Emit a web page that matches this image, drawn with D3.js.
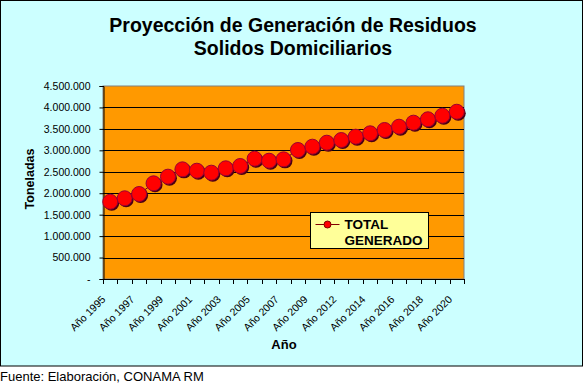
<!DOCTYPE html>
<html>
<head>
<meta charset="utf-8">
<script src="https://cdn.jsdelivr.net/npm/d3@7"></script>
<style>
  body { margin: 0; background: #fff; }
  svg { display: block; font-family: Arial, "Liberation Sans", sans-serif; }
</style>
</head>
<body>
<svg id="chart" width="584" height="384"></svg>
<script>
// años (uno sin etiqueta entre 2009 y 2012)
const years = [1995, 1996, 1997, 1998, 1999, 2000, 2001, 2002, 2003, 2004, 2005, 2006, 2007, 2008, 2009,
  2010, 2012, 2013, 2014, 2015, 2016, 2017, 2018, 2019, 2020];
const categories = years.map(y => 'Año ' + y);
const totalGenerado = [1802000, 1882000, 1982000, 2231000, 2386000, 2557000, 2525000, 2479000, 2581000,
  2635000, 2805000, 2758000, 2790000, 3008000, 3085000, 3178000, 3240000, 3318000, 3397000, 3474000,
  3551000, 3645000, 3724000, 3807000, 3900000];
const yTicks = [0, 500000, 1000000, 1500000, 2000000, 2500000, 3000000, 3500000, 4000000, 4500000];
const seriesName = ['TOTAL', 'GENERADO'];

const svg = d3.select('#chart');
const margin = { left: 103, right: 464, top: 86, bottom: 279 };

const es = d3.formatLocale({ decimal: ',', thousands: '.', grouping: [3], currency: ['$', ''] });
const fmt = v => v === 0 ? '-' : es.format(',')(v);

// fondo del gráfico
svg.append('rect')
  .attr('x', 0.5).attr('y', 0.5)
  .attr('width', 582).attr('height', 365.5)
  .attr('fill', '#ccffff')
  .attr('stroke', '#000');

// título
svg.append('text')
  .attr('x', 293).attr('y', 32)
  .attr('text-anchor', 'middle')
  .style('font-size', '19.5px').style('font-weight', 'bold')
  .text('Proyección de Generación de Residuos');
svg.append('text')
  .attr('x', 293).attr('y', 55)
  .attr('text-anchor', 'middle')
  .style('font-size', '19.5px').style('font-weight', 'bold')
  .text('Solidos Domiciliarios');

const x = d3.scaleBand()
  .domain(categories)
  .range([margin.left, margin.right]);

const y = d3.scaleLinear()
  .domain([0, 4500000])
  .range([margin.bottom, margin.top]);

// área de trazado
svg.append('rect')
  .attr('x', margin.left).attr('y', margin.top)
  .attr('width', margin.right - margin.left)
  .attr('height', margin.bottom - margin.top)
  .attr('fill', '#ff9900')
  .attr('stroke', '#808080');

// líneas de división
svg.append('g')
  .selectAll('line')
  .data(yTicks.filter(t => t > 0 && t < 4500000))
  .enter()
  .append('line')
  .attr('x1', margin.left).attr('x2', margin.right)
  .attr('y1', d => Math.round(y(d)) + 0.5).attr('y2', d => Math.round(y(d)) + 0.5)
  .attr('stroke', '#000');

// eje Y
const yAxis = svg.append('g')
  .attr('transform', `translate(${margin.left + 0.5},0)`)
  .call(d3.axisLeft(y).tickValues(yTicks).tickFormat(fmt).tickSize(4).tickPadding(9));
yAxis.select('.domain').attr('stroke', '#000');
yAxis.selectAll('text').style('font-size', '10.5px').attr('fill', '#000');

// eje X (marcas entre categorías)
const boundaries = categories.map(c => x(c)).concat([margin.right]);
svg.append('line')
  .attr('x1', margin.left).attr('x2', margin.right)
  .attr('y1', margin.bottom + 0.5).attr('y2', margin.bottom + 0.5)
  .attr('stroke', '#000');
svg.append('g')
  .selectAll('line')
  .data(boundaries)
  .enter()
  .append('line')
  .attr('x1', d => Math.round(d) + 0.5).attr('x2', d => Math.round(d) + 0.5)
  .attr('y1', margin.bottom).attr('y2', margin.bottom + 5)
  .attr('stroke', '#000');

svg.append('g')
  .selectAll('text')
  .data(categories.filter((c, i) => i % 2 === 0))
  .enter()
  .append('text')
  .attr('transform', d => `translate(${x(d) + x.bandwidth() / 2 - 4},${margin.bottom + 21}) rotate(-45)`)
  .attr('text-anchor', 'end')
  .style('font-size', '10.5px')
  .text(d => d);

// títulos de ejes
svg.append('text')
  .attr('transform', 'translate(34,179) rotate(-90)')
  .attr('text-anchor', 'middle')
  .style('font-size', '12.5px').style('font-weight', 'bold')
  .text('Toneladas');
svg.append('text')
  .attr('x', 284).attr('y', 349)
  .attr('text-anchor', 'middle')
  .style('font-size', '13px').style('font-weight', 'bold')
  .text('Año');

// serie
const cx = (d, i) => x(categories[i]) + x.bandwidth() / 2;
const line = d3.line()
  .x((d, i) => cx(d, i))
  .y(d => y(d));
svg.append('path')
  .datum(totalGenerado)
  .attr('d', line)
  .attr('fill', 'none')
  .attr('stroke', '#800000')
  .attr('stroke-width', 1);

const pts = svg.append('g');
pts.selectAll('circle.shadow')
  .data(totalGenerado)
  .enter()
  .append('circle')
  .attr('class', 'shadow')
  .attr('cx', (d, i) => cx(d, i) + 1.5)
  .attr('cy', d => y(d) + 1.5)
  .attr('r', 7.5)
  .attr('fill', '#4a0010');
pts.selectAll('circle.dot')
  .data(totalGenerado)
  .enter()
  .append('circle')
  .attr('class', 'dot')
  .attr('cx', (d, i) => cx(d, i))
  .attr('cy', d => y(d))
  .attr('r', 7.5)
  .attr('fill', '#ff0000')
  .attr('stroke', '#990033')
  .attr('stroke-width', 1);

// leyenda
const legend = svg.append('g').attr('transform', 'translate(310.5,212.5)');
legend.append('rect')
  .attr('width', 118).attr('height', 36)
  .attr('fill', '#ffff99')
  .attr('stroke', '#000');
legend.append('line')
  .attr('x1', 5).attr('x2', 29).attr('y1', 12).attr('y2', 12)
  .attr('stroke', '#800000');
legend.append('circle')
  .attr('cx', 17).attr('cy', 12).attr('r', 3.5)
  .attr('fill', '#ff0000').attr('stroke', '#800000');
legend.selectAll('text')
  .data(seriesName)
  .enter()
  .append('text')
  .attr('x', 34)
  .attr('y', (d, i) => 16.5 + i * 15.5)
  .style('font-size', '13.5px').style('font-weight', 'bold')
  .text(d => d);

// fuente
svg.append('text')
  .attr('x', 0).attr('y', 381)
  .style('font-size', '13px')
  .text('Fuente: Elaboración, CONAMA RM');
</script>
</body>
</html>
